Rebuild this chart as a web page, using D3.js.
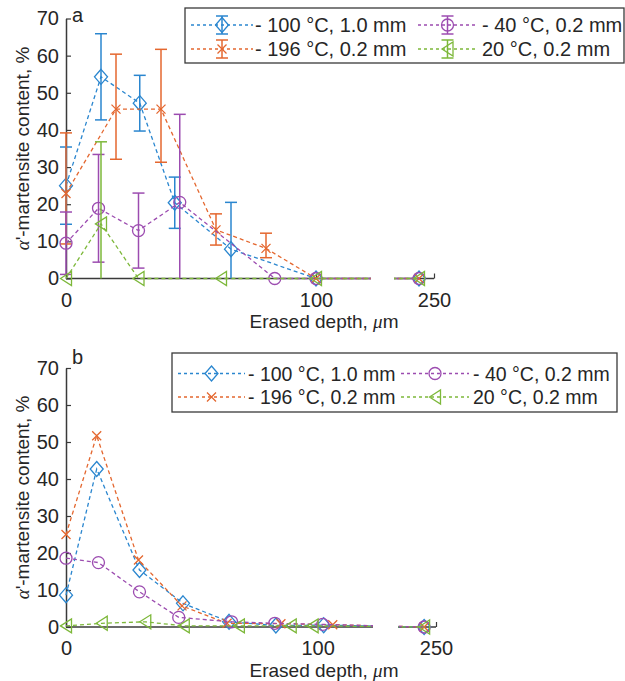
<!DOCTYPE html>
<html><head><meta charset="utf-8">
<script src="https://cdn.jsdelivr.net/npm/d3@7"></script>
<style>
body{margin:0;background:#fff}
svg{display:block}
text{font-family:"Liberation Sans",Arial,sans-serif;fill:#262626}
</style>
</head><body>
<svg id="c" width="625" height="681"></svg>
<script>
// ---------- shared ----------
const seriesNames   = ["- 100 \u00B0C, 1.0 mm", "- 196 \u00B0C, 0.2 mm", "- 40 \u00B0C, 0.2 mm", "20 \u00B0C, 0.2 mm"];
const seriesColors  = ["#2a86cf", "#e4672f", "#9c4cb0", "#7db83a"];
const seriesMarkers = ["diamond", "cross", "circle", "triangleLeft"];
const yTicks = [0, 10, 20, 30, 40, 50, 60, 70];
const xTicks = [0, 100, 250];
const xTickLabels = ["0", "100", "250"];
const xDomain = [0, 122, 234, 250];   // broken axis: 0..122 | 234..250

// ---------- panel a (with error bars) ----------
const aDepth100 = [0, 14, 29.5, 43.5, 66, 100, 244];
const aVal100   = [25, 54.3, 47.2, 20.4, 7.9, 0, 0];
const aLo100    = [10.4, 11.6, 7.5, 6.9, 12.6, 0, 0];
const aHi100    = [10.4, 11.6, 7.5, 6.9, 12.6, 0, 0];

const aDepth196 = [0, 20, 38, 60, 80, 100, 244];
const aVal196   = [22.9, 45.6, 45.6, 13.1, 8.1, 0, 0];
const aLo196    = [13.6, 13.5, 14.3, 4.1, 2.5, 0, 0];
const aHi196    = [16.3, 14.8, 16.1, 4.3, 4.1, 0, 0];

const aDepth40  = [0, 13, 29, 45.5, 83.5, 100, 244];
const aVal40    = [9.5, 18.9, 12.9, 20.5, 0, 0, 0];
const aLo40     = [8.4, 14.5, 10.1, 23.7, 0, 0, 0];
const aHi40     = [8.4, 14.5, 10.1, 23.7, 0, 0, 0];

const aDepth20  = [0, 14, 29, 62, 100, 244];
const aVal20    = [0, 14.7, 0, 0, 0, 0];
const aLo20     = [0, 22.1, 0, 0, 0, 0];
const aHi20     = [0, 22.1, 0, 0, 0, 0];

// ---------- panel b (no error bars) ----------
const bDepth100 = [0, 12.2, 29.2, 46.5, 64.8, 83.4, 102.4, 245];
const bVal100   = [8.6, 42.7, 15.4, 6.4, 1.4, 0.4, 0.5, 0];
const bDepth196 = [0, 12.2, 28.8, 46.1, 64, 85.4, 106, 245];
const bVal196   = [25, 51.7, 18.1, 5.7, 1.0, 0.9, 0.6, 0];
const bDepth40  = [0, 12.9, 29.2, 44.8, 65.8, 83, 102, 245];
const bVal40    = [18.6, 17.4, 9.5, 2.6, 1.4, 1.0, 0.7, 0];
const bDepth20  = [0, 14.2, 31.5, 46.8, 68.7, 89.3, 98, 245];
const bVal20    = [0.3, 1.0, 1.4, 0.3, 0.3, 0.3, 0.3, 0];

function build(depths, vals, los, his) {
  return depths.map((d, i) => ({d: d, v: vals[i], lo: los ? los[i] : 0, hi: his ? his[i] : 0}));
}
const seriesA = [
  build(aDepth100, aVal100, aLo100, aHi100),
  build(aDepth196, aVal196, aLo196, aHi196),
  build(aDepth40, aVal40, aLo40, aHi40),
  build(aDepth20, aVal20, aLo20, aHi20)
];
const seriesB = [
  build(bDepth100, bVal100),
  build(bDepth196, bVal196),
  build(bDepth40, bVal40),
  build(bDepth20, bVal20)
];

const panels = [
  {id: "a", series: seriesA, withErr: true,
   xRange: [66, 371, 394, 434], yRange: [278.5, 18.5], gapMid: 382.5,
   letter: [72, 22], xLabel: [324, 328], yLabelX: 29,
   legend: {box: [185, 8, 624, 63], rows: [25, 49], fs: 20,
            cols: [{s0: 191, s1: 253, t: 255}, {s0: 418, s1: 477, t: 482}]}},
  {id: "b", series: seriesB, withErr: false,
   xRange: [66, 373, 398, 436], yRange: [627, 368], gapMid: 385.5,
   letter: [72, 364], xLabel: [324, 677], yLabelX: 29,
   legend: {box: [172, 353, 617, 412], rows: [373.5, 397], fs: 19.5,
            cols: [{s0: 178, s1: 245, t: 248}, {s0: 401, s1: 469, t: 473}]}}
];

const svg = d3.select("#c");
const AX = "#3a3a3a";

function drawMarker(g, type, color) {
  let p;
  if (type === "diamond") p = "M0,-7.5L6.5,0L0,7.5L-6.5,0Z";
  else if (type === "cross") p = "M-4.5,-4.5L4.5,4.5M-4.5,4.5L4.5,-4.5";
  else if (type === "circle") { const c = d3.path(); c.arc(0, 0, 6, 0, 2 * Math.PI); p = c.toString(); }
  else p = "M-5.5,0L5.5,-7L5.5,7Z";
  g.append("path").attr("d", p).attr("fill", "none").attr("stroke", color).attr("stroke-width", 1.3);
}

panels.forEach((P) => {
  const g = svg.append("g");
  const x = d3.scaleLinear().domain(xDomain).range(P.xRange);
  const y = d3.scaleLinear().domain([0, 70]).range(P.yRange);

  // y axis
  const ya = g.append("g").attr("transform", `translate(${x(0)},0)`)
    .call(d3.axisLeft(y).tickValues(yTicks).tickSizeInner(-5).tickSizeOuter(0).tickPadding(7));
  ya.select(".domain").attr("stroke", AX).attr("stroke-width", 1.5);
  ya.selectAll(".tick line").attr("stroke", AX).attr("stroke-width", 1.2);
  ya.selectAll("text").attr("font-size", 20).attr("font-family", "Liberation Sans, Arial, sans-serif").attr("fill", "#262626");

  // x axis (broken)
  const xa = g.append("g").attr("transform", `translate(0,${y(0)})`)
    .call(d3.axisBottom(x).tickValues(xTicks).tickFormat((d, i) => xTickLabels[i]).tickSizeInner(-5).tickSizeOuter(0).tickPadding(14));
  xa.select(".domain").remove();
  xa.selectAll(".tick line").attr("stroke", AX).attr("stroke-width", 1.2);
  xa.selectAll("text").attr("font-size", 20).attr("font-family", "Liberation Sans, Arial, sans-serif").attr("fill", "#262626");
  [[xDomain[0], xDomain[1]], [xDomain[2], xDomain[3]]].forEach(seg => {
    g.append("line").attr("x1", x(seg[0])).attr("x2", x(seg[1])).attr("y1", y(0)).attr("y2", y(0))
      .attr("stroke", AX).attr("stroke-width", 1.5);
  });
  // break symbol
  const bx = P.gapMid, by = y(0);
  [-2.5, 2.5].forEach(dx => {
    g.append("path")
      .attr("d", `M${bx + dx - 2},${by + 5}Q${bx + dx - 3},${by}${bx + dx},${by}Q${bx + dx + 3},${by}${bx + dx + 2},${by - 5}`)
      .attr("fill", "none").attr("stroke", "#222").attr("stroke-width", 1.4);
  });

  // clip to hide lines inside the axis break
  const cid = "clip" + P.id;
  const cp = svg.append("defs").append("clipPath").attr("id", cid);
  cp.append("rect").attr("x", 0).attr("y", 0).attr("width", x(xDomain[1])).attr("height", 681);
  cp.append("rect").attr("x", x(xDomain[2])).attr("y", 0).attr("width", 625).attr("height", 681);

  const line = d3.line().x(d => x(d.d)).y(d => y(d.v));

  P.series.forEach((data, si) => {
    const col = seriesColors[si];
    g.append("path").datum(data).attr("d", line).attr("clip-path", `url(#${cid})`)
      .attr("fill", "none").attr("stroke", col).attr("stroke-width", 1.3).attr("stroke-dasharray", "4,3");
    if (P.withErr) {
      data.filter(d => d.lo > 0 || d.hi > 0).forEach(d => {
        const top = Math.min(70, d.v + d.hi), bot = Math.max(0, d.v - d.lo);
        const cx = x(d.d);
        g.append("line").attr("x1", cx).attr("x2", cx).attr("y1", y(top)).attr("y2", y(bot))
          .attr("stroke", col).attr("stroke-width", 1.5);
        g.append("line").attr("x1", cx - 6).attr("x2", cx + 6).attr("y1", y(top)).attr("y2", y(top))
          .attr("stroke", col).attr("stroke-width", 1.5);
        if (d.v - d.lo >= 0)
          g.append("line").attr("x1", cx - 6).attr("x2", cx + 6).attr("y1", y(bot)).attr("y2", y(bot))
            .attr("stroke", col).attr("stroke-width", 1.5);
      });
    }
    data.forEach(d => {
      const mg = g.append("g").attr("transform", `translate(${x(d.d)},${y(d.v)})`);
      drawMarker(mg, seriesMarkers[si], col);
    });
  });

  // panel letter
  g.append("text").attr("x", P.letter[0]).attr("y", P.letter[1]).attr("font-size", 20).text(P.id);

  // axis labels
  const xl = g.append("text").attr("x", P.xLabel[0]).attr("y", P.xLabel[1])
    .attr("text-anchor", "middle").attr("font-size", 19);
  xl.append("tspan").text("Erased depth, ");
  xl.append("tspan").attr("font-style", "italic").attr("font-family", "Liberation Serif, serif").text("\u03BC");
  xl.append("tspan").text("m");

  const yl = g.append("text")
    .attr("transform", `translate(${P.yLabelX},${(y(0) + y(70)) / 2}) rotate(-90)`)
    .attr("text-anchor", "middle").attr("font-size", 19);
  yl.append("tspan").attr("font-style", "italic").attr("font-family", "Liberation Serif, serif").text("\u03B1");
  yl.append("tspan").text("'-martensite content, %");

  // legend
  const L = P.legend;
  g.append("rect").attr("x", L.box[0]).attr("y", L.box[1])
    .attr("width", L.box[2] - L.box[0]).attr("height", L.box[3] - L.box[1])
    .attr("fill", "#fff").attr("stroke", "#3a3a3a").attr("stroke-width", 1.3);
  seriesNames.forEach((name, si) => {
    const c = L.cols[Math.floor(si / 2)], ry = L.rows[si % 2], col = seriesColors[si];
    g.append("line").attr("x1", c.s0).attr("x2", c.s1).attr("y1", ry).attr("y2", ry)
      .attr("stroke", col).attr("stroke-width", 1.3).attr("stroke-dasharray", "3,3");
    const mx = (c.s0 + c.s1) / 2;
    if (P.withErr) {
      g.append("line").attr("x1", mx).attr("x2", mx).attr("y1", ry - 9).attr("y2", ry + 9).attr("stroke", col).attr("stroke-width", 1.5);
      [-9, 9].forEach(o => g.append("line").attr("x1", mx - 6).attr("x2", mx + 6).attr("y1", ry + o).attr("y2", ry + o).attr("stroke", col).attr("stroke-width", 1.5));
    }
    drawMarker(g.append("g").attr("transform", `translate(${mx},${ry})`), seriesMarkers[si], col);
    g.append("text").attr("x", c.t).attr("y", ry + 7).attr("font-size", L.fs).text(name);
  });
});
</script>
</body></html>
